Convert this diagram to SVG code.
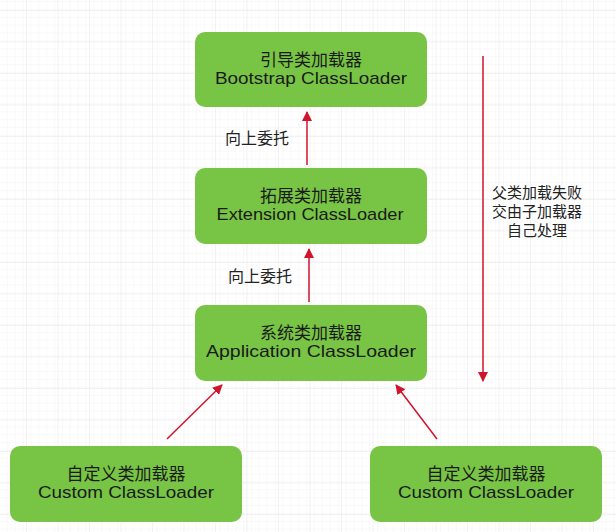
<svg xmlns="http://www.w3.org/2000/svg" width="616" height="532" viewBox="0 0 616 532">
<defs>
  <pattern id="minor" width="7.875" height="7.875" patternUnits="userSpaceOnUse" x="0" y="2">
    <path d="M7.875 0V7.875M0 7.875H7.875" fill="none" stroke="#f3f3f3" stroke-width="1"/>
  </pattern>
  <pattern id="major" width="31.5" height="31.5" patternUnits="userSpaceOnUse" x="-5.5" y="10">
    <path d="M0 0V31.5M0 0H31.5" fill="none" stroke="#e6e6e6" stroke-width="1"/>
  </pattern>
  <marker id="arr" viewBox="0 0 10 10" refX="9" refY="5" markerWidth="10" markerHeight="10" markerUnits="userSpaceOnUse" orient="auto">
    <path d="M0 0L10 5L0 10Z" fill="#d0142c"/>
  </marker>
</defs>
<style>
  .box{fill:#78c445;}
  .cn{font-family:"Noto Sans CJK SC","Noto Sans",sans-serif;font-size:17px;fill:#1a1a1a;text-anchor:middle;}
  .en{font-family:"Liberation Sans",Arial,sans-serif;font-size:17px;fill:#1a1a1a;text-anchor:middle;}
  .lbl{font-family:"Noto Sans CJK SC","Noto Sans",sans-serif;font-size:16px;fill:#222;text-anchor:middle;}
  .side{font-family:"Noto Sans CJK SC","Noto Sans",sans-serif;font-size:15px;fill:#222;text-anchor:middle;}
  .edge{stroke:#d0142c;stroke-width:1.5;fill:none;marker-end:url(#arr);}
</style>
<rect width="616" height="532" fill="#ffffff"/>
<rect width="616" height="532" fill="url(#minor)"/>
<rect width="616" height="532" fill="url(#major)"/>

<g id="connectors">
  <line class="edge" x1="307" y1="165" x2="307" y2="112"/>
  <line class="edge" x1="309" y1="302" x2="309" y2="249"/>
  <line class="edge" x1="167" y1="439" x2="222" y2="385"/>
  <line class="edge" x1="437" y1="439" x2="396" y2="385"/>
  <line class="edge" x1="483" y1="56" x2="483" y2="381"/>
  <text class="lbl" x="257" y="144">向上委托</text>
  <text class="lbl" x="260" y="282">向上委托</text>
  <text class="side" x="537" y="198">父类加载失败</text>
  <text class="side" x="537" y="217">交由子加载器</text>
  <text class="side" x="537" y="236">自己处理</text>
</g>

<g id="bootstrap">
  <rect class="box" x="195" y="32" width="232" height="75" rx="10"/>
  <text class="cn" x="311" y="66">引导类加载器</text>
  <text class="en" x="311" y="84" textLength="192" lengthAdjust="spacingAndGlyphs">Bootstrap ClassLoader</text>
</g>
<g id="extension">
  <rect class="box" x="195" y="168" width="232" height="76" rx="10"/>
  <text class="cn" x="311" y="202">拓展类加载器</text>
  <text class="en" x="310" y="220" textLength="187" lengthAdjust="spacingAndGlyphs">Extension ClassLoader</text>
</g>
<g id="application">
  <rect class="box" x="195" y="305" width="232" height="76" rx="10"/>
  <text class="cn" x="311" y="339">系统类加载器</text>
  <text class="en" x="311" y="357" textLength="210" lengthAdjust="spacingAndGlyphs">Application ClassLoader</text>
</g>
<g id="custom1">
  <rect class="box" x="10" y="446" width="232" height="76" rx="10"/>
  <text class="cn" x="126" y="480">自定义类加载器</text>
  <text class="en" x="126" y="498" textLength="176" lengthAdjust="spacingAndGlyphs">Custom ClassLoader</text>
</g>
<g id="custom2">
  <rect class="box" x="370" y="446" width="232" height="76" rx="10"/>
  <text class="cn" x="486" y="480">自定义类加载器</text>
  <text class="en" x="486" y="498" textLength="176" lengthAdjust="spacingAndGlyphs">Custom ClassLoader</text>
</g>
</svg>
